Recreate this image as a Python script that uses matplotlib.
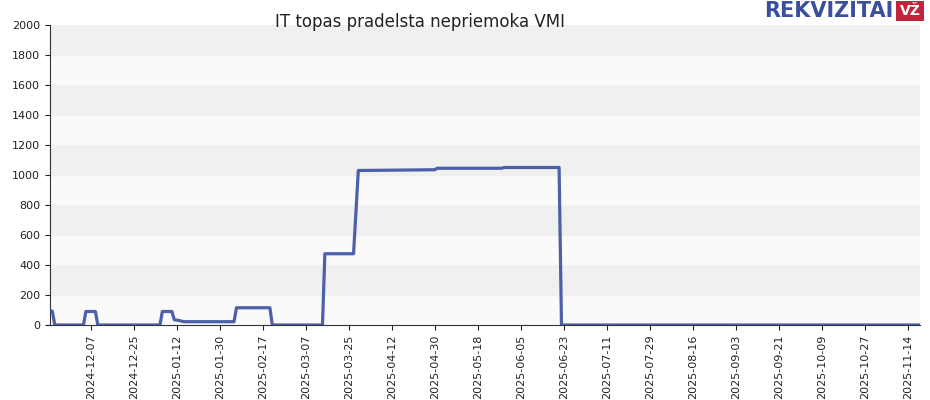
import matplotlib
matplotlib.use("Agg")
import matplotlib.pyplot as plt
import matplotlib.dates as mdates
import numpy as np
from datetime import date, timedelta

dates = ["2024-11-20","2024-11-21","2024-11-22","2024-12-04","2024-12-05","2024-12-09","2024-12-10",
         "2025-01-05","2025-01-06","2025-01-10","2025-01-11","2025-01-13","2025-01-15",
         "2025-02-05","2025-02-06","2025-02-20","2025-02-21",
         "2025-03-14","2025-03-15","2025-03-27","2025-03-29","2025-04-30","2025-05-01",
         "2025-05-28","2025-05-29","2025-06-21","2025-06-22","2025-11-19"]
values = [100,90,0,0,90,90,0,
          0,90,90,35,30,22,
          22,115,115,0,
          0,475,475,1030,1035,1045,
          1045,1050,1050,0,0]
title = "IT topas pradelsta nepriemoka VMI"

x = np.array(dates, dtype="datetime64[D]")
fig = plt.figure(figsize=(9.3, 4.0), dpi=100)
fig.patch.set_facecolor("white")
ax = fig.add_axes([50/930, 75/400, 870/930, 300/400])
ax.set_facecolor("#fafafa")
for lo in range(200, 2000, 400):
    ax.axhspan(lo, lo+200, color="#f0f0f0", zorder=0)
ax.plot(x, values, color="#3a4fa0", lw=2.3, alpha=0.9, zorder=3)
ax.set_ylim(0, 2000)
ax.set_yticks(range(0, 2001, 200))
ax.set_xlim(np.datetime64("2024-11-20"), np.datetime64("2025-11-19"))
start = date(2024, 12, 7)
ticks = [start + timedelta(days=18*i) for i in range(20)]
ticks = [t for t in ticks if t <= date(2025, 11, 19)]
ax.set_xticks(ticks)
ax.set_xticklabels([t.isoformat() for t in ticks], rotation=90)
ax.tick_params(labelsize=8, colors="#222222")
for s in ["top", "right"]:
    ax.spines[s].set_visible(False)
ax.spines["left"].set_color("#333333")
ax.spines["bottom"].set_color("#333333")
fig.text(420/930, 1-22/400, title, ha="center", va="center", fontsize=12, color="#222222")
fig.text(893/930, 1-11/400, "REKVIZITAI", ha="right", va="center", fontsize=15,
         fontweight="bold", color="#3a4fa0", family="DejaVu Sans Condensed" if False else "DejaVu Sans")
fig.text(910/930, 1-11/400, "VŽ", ha="center", va="center", fontsize=10, fontweight="bold",
         color="white", bbox=dict(boxstyle="square,pad=0.25", fc="#c0243a", ec="none"))
fig.savefig("out.png", dpi=100)
